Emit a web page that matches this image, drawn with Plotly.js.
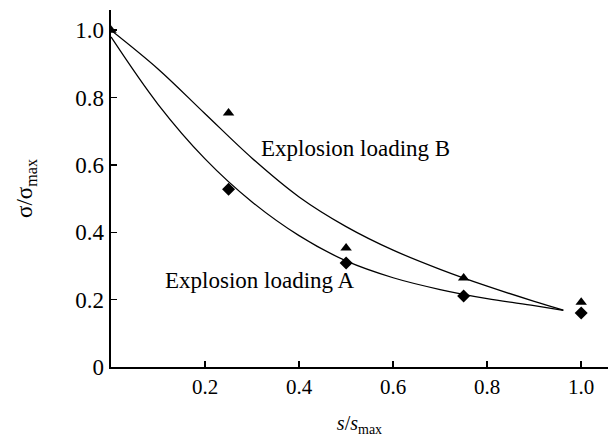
<!DOCTYPE html>
<html>
<head>
<meta charset="utf-8">
<script src="https://cdn.plot.ly/plotly-3.0.1.min.js"></script>
<style>html,body{margin:0;padding:0;background:#fff;}#chart{width:611px;height:437px;}</style>
</head>
<body>
<div id="chart"></div>
<script>
// Measured points
const sA = [0.25, 0.5, 0.75, 1.0];
const sigA = [0.528, 0.309, 0.211, 0.16];
const sB = [0, 0.25, 0.5, 0.75, 1.0];
const sigB = [1.0, 0.754, 0.353, 0.264, 0.192];

// Fitted curves
const curveAx = [0, 0.1, 0.2, 0.3, 0.4, 0.5, 0.6, 0.7, 0.8, 0.9, 0.962];
const curveAy = [0.98, 0.78, 0.618, 0.49, 0.39, 0.315, 0.265, 0.23, 0.203, 0.182, 0.168];
const curveBx = [0, 0.1, 0.2, 0.3, 0.4, 0.5, 0.6, 0.7, 0.8, 0.9, 0.962];
const curveBy = [1.0, 0.885, 0.752, 0.62, 0.505, 0.417, 0.347, 0.29, 0.24, 0.195, 0.169];

const xTicks = [0.2, 0.4, 0.6, 0.8, 1.0];
const xTickText = ["0.2", "0.4", "0.6", "0.8", "1.0"];
const yTicks = [0, 0.2, 0.4, 0.6, 0.8, 1.0];
const yTickText = ["0", "0.2", "0.4", "0.6", "0.8", "1.0"];

const labelA = "Explosion loading A";
const labelB = "Explosion loading B";

const serif = "Liberation Serif, Times New Roman, serif";

const traces = [
  {x: curveAx, y: curveAy, mode: "lines", line: {color: "#000", width: 1.3, shape: "spline", smoothing: 1}, hoverinfo: "skip"},
  {x: curveBx, y: curveBy, mode: "lines", line: {color: "#000", width: 1.3, shape: "spline", smoothing: 1}, hoverinfo: "skip"},
  {x: sA, y: sigA, mode: "markers", marker: {symbol: "diamond", size: 10, color: "#000"}},
  {x: sB, y: sigB, mode: "markers", marker: {symbol: "triangle-up", size: 10, color: "#000"}}
];

const layout = {
  width: 611, height: 437,
  margin: {l: 111, r: 3, t: 10, b: 70},
  paper_bgcolor: "#fff", plot_bgcolor: "#fff",
  showlegend: false,
  font: {family: serif, color: "#000"},
  xaxis: {
    range: [0, 1.057], showgrid: false, zeroline: false,
    showline: true, linecolor: "#000", linewidth: 2,
    ticks: "inside", ticklen: 6, tickwidth: 1.5, tickcolor: "#000",
    tickvals: xTicks, ticktext: xTickText,
    tickfont: {family: serif, size: 21, color: "#000"},
    title: {text: "<i>s</i>/<i>s</i><sub>max</sub>", font: {family: serif, size: 20, color: "#000"}, standoff: 22}
  },
  yaxis: {
    range: [0, 1.06], showgrid: false, zeroline: false,
    showline: true, linecolor: "#000", linewidth: 2.5,
    ticks: "inside", ticklen: 6, tickwidth: 1.5, tickcolor: "#000",
    tickvals: yTicks, ticktext: yTickText,
    tickfont: {family: serif, size: 23, color: "#000"},
    title: {text: "σ/σ<sub>max</sub>", font: {family: serif, size: 23, color: "#000"}, standoff: 36}
  },
  annotations: [
    {x: 0.52, y: 0.65, xref: "x", yref: "y", text: labelB, showarrow: false, font: {family: serif, size: 23, color: "#000"}},
    {x: 0.316, y: 0.258, xref: "x", yref: "y", text: labelA, showarrow: false, font: {family: serif, size: 23, color: "#000"}}
  ]
};

Plotly.newPlot("chart", traces, layout, {displayModeBar: false, staticPlot: true});
</script>
</body>
</html>
